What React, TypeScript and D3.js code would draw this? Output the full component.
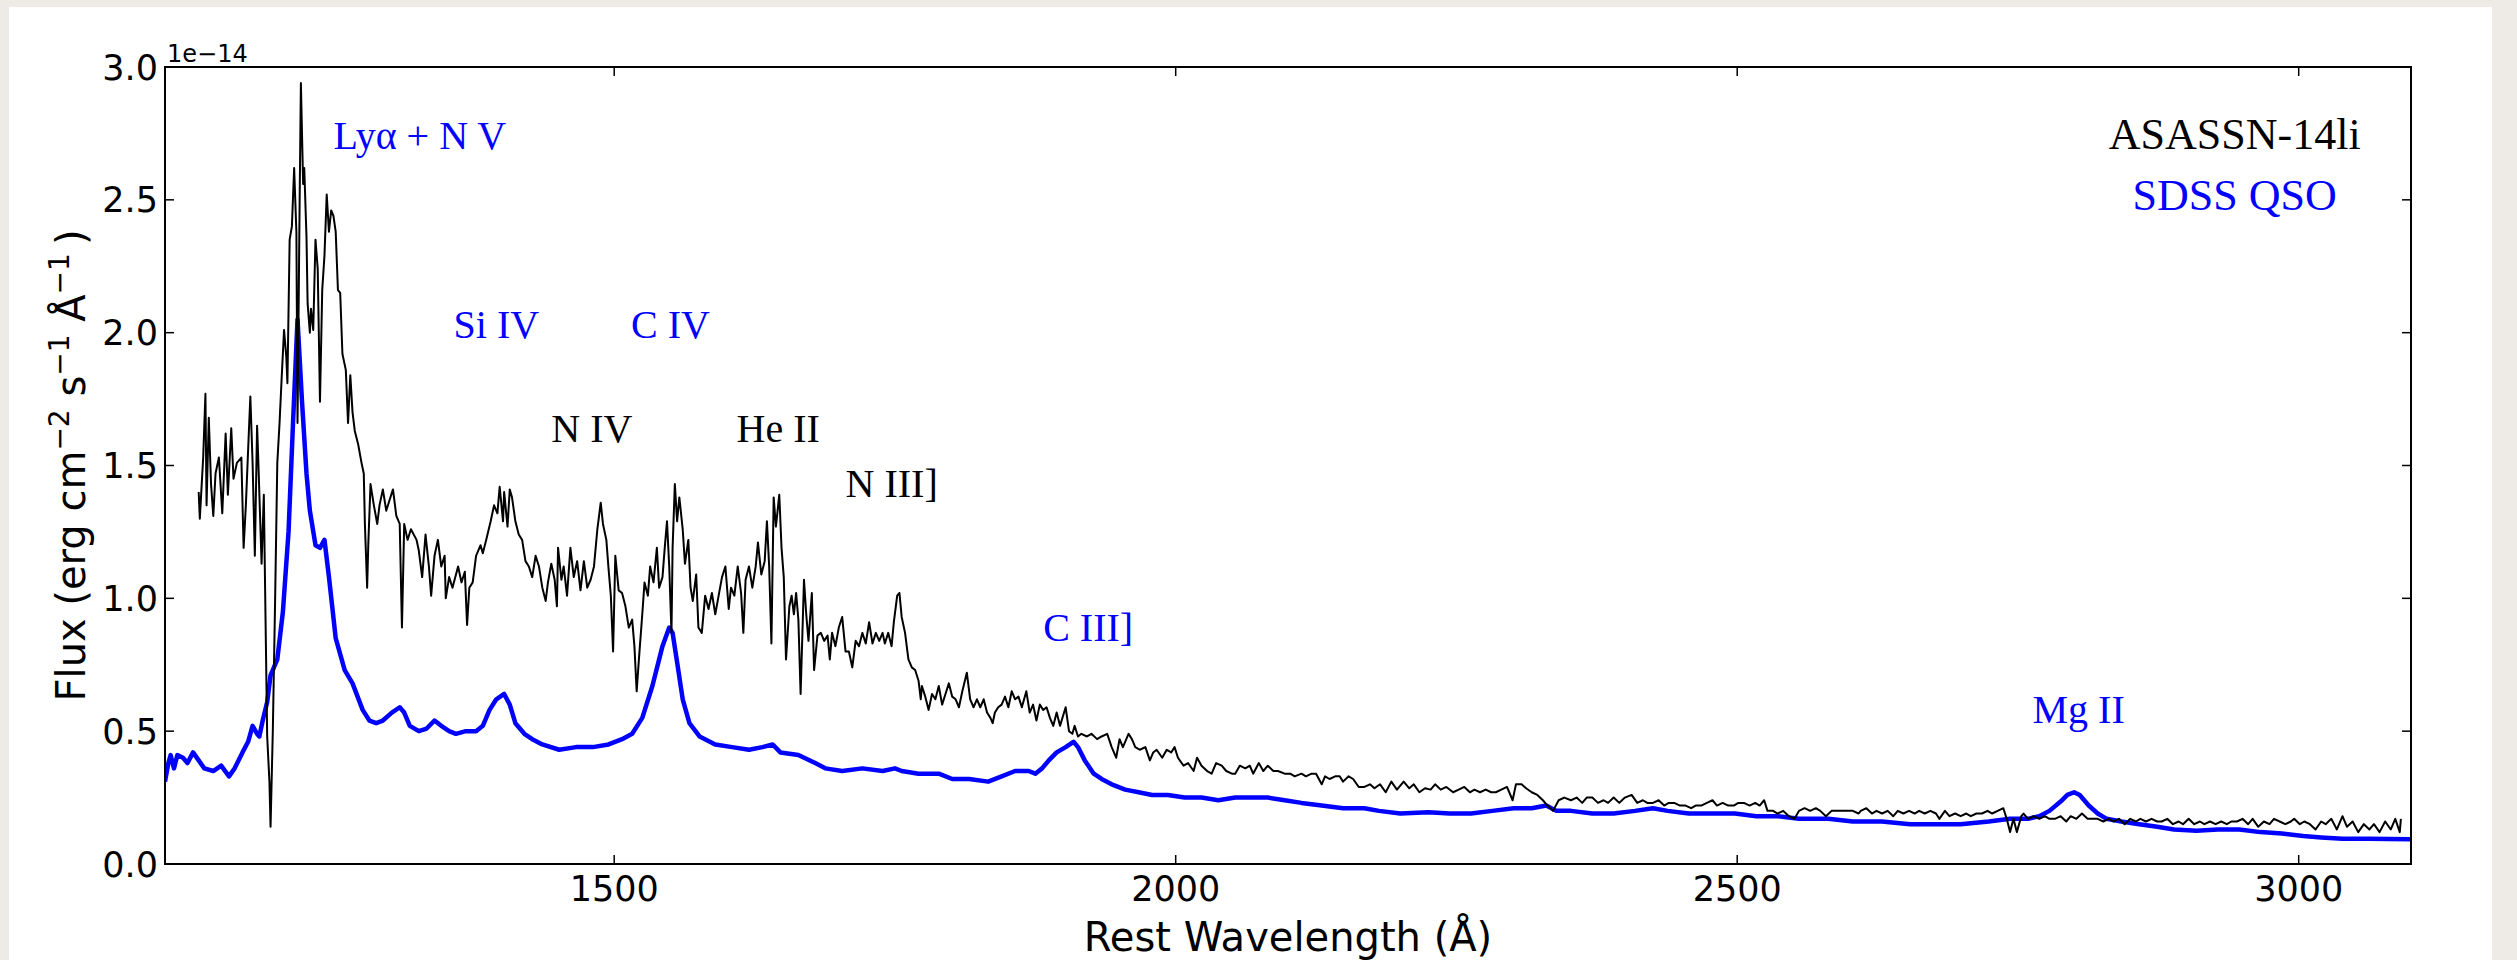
import React from 'react';
import * as d3 from 'd3';

// ---------- data (flux in units of 1e-14 erg cm^-2 s^-1 Å^-1) ----------
const xTicks = [1500, 2000, 2500, 3000];
const xTickLabels = ['1500', '2000', '2500', '3000'];
const yTicks = [0, 0.5, 1.0, 1.5, 2.0, 2.5, 3.0];
const yTickLabels = ['0.0', '0.5', '1.0', '1.5', '2.0', '2.5', '3.0'];
const xDomain = [1100, 3100];
const yDomain = [0, 3];
const offsetLabel = '1e\u221214';

// SDSS composite QSO (blue)
const qsoSpectrum: [number, number][] = [
  [1100, 0.31], [1103, 0.38], [1105, 0.41], [1108, 0.36], [1111, 0.41], [1116, 0.40], [1120, 0.38],
  [1125, 0.42], [1130, 0.39], [1135, 0.36], [1143, 0.35], [1150, 0.37], [1157, 0.33], [1162, 0.36],
  [1169, 0.42], [1174, 0.46], [1178, 0.52], [1182, 0.49], [1184, 0.48], [1187, 0.54], [1191, 0.61],
  [1194, 0.71], [1197, 0.74], [1200, 0.77], [1205, 0.95], [1210, 1.25], [1214, 1.66], [1218, 2.05],
  [1222, 1.74], [1226, 1.47], [1229, 1.33], [1234, 1.20], [1238, 1.19], [1242, 1.22], [1246, 1.08],
  [1252, 0.85], [1260, 0.73], [1267, 0.68], [1276, 0.58], [1282, 0.54], [1288, 0.53], [1294, 0.54],
  [1302, 0.57], [1309, 0.59], [1313, 0.57], [1318, 0.52], [1326, 0.50], [1333, 0.51], [1340, 0.54],
  [1346, 0.52], [1353, 0.50], [1359, 0.49], [1368, 0.50], [1377, 0.50], [1383, 0.52], [1389, 0.58],
  [1395, 0.62], [1402, 0.64], [1407, 0.60], [1412, 0.53], [1420, 0.49], [1427, 0.47], [1436, 0.45],
  [1451, 0.43], [1466, 0.44], [1481, 0.44], [1495, 0.45], [1507, 0.47], [1516, 0.49], [1525, 0.55],
  [1534, 0.67], [1543, 0.82], [1549, 0.89], [1552, 0.87], [1556, 0.76], [1561, 0.62], [1567, 0.53],
  [1576, 0.48], [1590, 0.45], [1605, 0.44], [1620, 0.43], [1632, 0.44], [1641, 0.45], [1648, 0.42],
  [1664, 0.41], [1679, 0.38], [1688, 0.36], [1703, 0.35], [1721, 0.36], [1739, 0.35], [1750, 0.36],
  [1756, 0.35], [1771, 0.34], [1789, 0.34], [1801, 0.32], [1816, 0.32], [1833, 0.31], [1845, 0.33],
  [1857, 0.35], [1869, 0.35], [1875, 0.34], [1881, 0.36], [1887, 0.39], [1894, 0.42], [1902, 0.44],
  [1909, 0.46], [1913, 0.44], [1919, 0.39], [1927, 0.34], [1934, 0.32], [1943, 0.30], [1955, 0.28],
  [1967, 0.27], [1979, 0.26], [1993, 0.26], [2008, 0.25], [2023, 0.25], [2038, 0.24], [2053, 0.25],
  [2071, 0.25], [2082, 0.25], [2097, 0.24], [2112, 0.23], [2130, 0.22], [2149, 0.21], [2168, 0.21],
  [2181, 0.20], [2200, 0.19], [2225, 0.195], [2244, 0.19], [2263, 0.19], [2282, 0.20], [2301, 0.21],
  [2317, 0.21], [2330, 0.22], [2339, 0.20], [2352, 0.20], [2371, 0.19], [2390, 0.19], [2409, 0.20],
  [2425, 0.21], [2438, 0.20], [2457, 0.19], [2479, 0.19], [2498, 0.19], [2517, 0.18], [2536, 0.18],
  [2555, 0.17], [2581, 0.17], [2603, 0.16], [2629, 0.16], [2654, 0.15], [2674, 0.15], [2699, 0.15],
  [2724, 0.16], [2743, 0.17], [2759, 0.17], [2769, 0.18], [2778, 0.20], [2788, 0.235], [2794, 0.26],
  [2800, 0.27], [2805, 0.26], [2813, 0.22], [2821, 0.19], [2829, 0.17], [2842, 0.16], [2858, 0.15],
  [2874, 0.14], [2889, 0.13], [2909, 0.125], [2928, 0.13], [2947, 0.13], [2966, 0.12], [2985, 0.115],
  [3004, 0.105], [3020, 0.10], [3039, 0.095], [3061, 0.095], [3080, 0.094], [3100, 0.093],
];

// ASASSN-14li (black)
const asassnSpectrum: [number, number][] = [
  [1130, 1.40], [1131, 1.30], [1134, 1.53], [1136, 1.77], [1137, 1.35], [1139, 1.68], [1141, 1.43],
  [1143, 1.31], [1145, 1.47], [1148, 1.53], [1151, 1.32], [1154, 1.62], [1156, 1.39], [1159, 1.64],
  [1161, 1.45], [1164, 1.51], [1168, 1.53], [1170, 1.19], [1172, 1.35], [1175, 1.66], [1176, 1.76],
  [1178, 1.51], [1180, 1.16], [1182, 1.65], [1183, 1.53], [1186, 1.13], [1188, 1.39], [1189, 1.08],
  [1191, 0.48], [1193, 0.31], [1194, 0.14], [1196, 0.50], [1198, 0.98], [1200, 1.51], [1202, 1.66],
  [1204, 1.84], [1206, 2.01], [1208, 1.91], [1209, 1.81], [1211, 2.35], [1213, 2.40], [1215, 2.62],
  [1217, 2.38], [1218, 1.66], [1220, 2.54], [1221, 2.94], [1223, 2.56], [1224, 2.62], [1226, 2.36],
  [1227, 2.11], [1229, 2.00], [1230, 2.09], [1232, 2.01], [1234, 2.35], [1236, 2.24], [1238, 1.74],
  [1240, 2.16], [1242, 2.29], [1244, 2.52], [1246, 2.38], [1248, 2.46], [1250, 2.44], [1252, 2.38],
  [1254, 2.16], [1256, 2.15], [1258, 1.92], [1261, 1.86], [1263, 1.66], [1265, 1.84], [1267, 1.70],
  [1269, 1.63], [1272, 1.58], [1275, 1.51], [1277, 1.47], [1278, 1.28], [1280, 1.04], [1281, 1.20],
  [1283, 1.43], [1286, 1.35], [1289, 1.28], [1291, 1.35], [1294, 1.41], [1297, 1.33], [1300, 1.37],
  [1303, 1.41], [1306, 1.31], [1309, 1.28], [1311, 0.89], [1313, 1.28], [1316, 1.22], [1319, 1.26],
  [1324, 1.22], [1326, 1.18], [1329, 1.08], [1332, 1.24], [1335, 1.12], [1337, 1.01], [1340, 1.16],
  [1343, 1.22], [1346, 1.12], [1349, 1.16], [1350, 1.00], [1353, 1.08], [1356, 1.04], [1361, 1.12],
  [1364, 1.06], [1367, 1.10], [1369, 0.90], [1371, 1.04], [1374, 1.06], [1377, 1.16], [1381, 1.20],
  [1383, 1.17], [1386, 1.22], [1390, 1.29], [1393, 1.35], [1396, 1.32], [1398, 1.42], [1401, 1.29],
  [1402, 1.40], [1405, 1.27], [1407, 1.41], [1409, 1.38], [1412, 1.29], [1415, 1.24], [1418, 1.22],
  [1421, 1.14], [1424, 1.12], [1427, 1.08], [1430, 1.16], [1433, 1.12], [1436, 1.04], [1439, 0.99],
  [1441, 1.06], [1444, 1.13], [1447, 1.07], [1449, 0.97], [1450, 1.19], [1453, 1.07], [1455, 1.12],
  [1458, 1.01], [1461, 1.19], [1464, 1.08], [1467, 1.14], [1470, 1.03], [1473, 1.14], [1476, 1.04],
  [1479, 1.07], [1482, 1.12], [1485, 1.26], [1488, 1.36], [1490, 1.28], [1493, 1.22], [1495, 1.11],
  [1497, 1.01], [1499, 0.80], [1501, 1.16], [1504, 1.03], [1507, 1.02], [1510, 0.97], [1513, 0.89],
  [1516, 0.92], [1518, 0.82], [1520, 0.65], [1522, 0.77], [1525, 0.94], [1527, 1.06], [1530, 1.01],
  [1532, 1.12], [1535, 1.06], [1538, 1.19], [1540, 1.04], [1543, 1.08], [1545, 1.19], [1547, 1.29],
  [1549, 1.12], [1551, 0.87], [1552, 1.19], [1554, 1.43], [1556, 1.29], [1558, 1.38], [1561, 1.26],
  [1563, 1.13], [1566, 1.22], [1568, 1.04], [1570, 0.99], [1573, 1.09], [1575, 0.89], [1578, 0.87],
  [1581, 1.01], [1584, 0.96], [1587, 1.02], [1590, 0.94], [1593, 1.01], [1596, 1.08], [1599, 1.12],
  [1602, 0.96], [1604, 1.04], [1607, 1.01], [1610, 1.12], [1613, 1.02], [1615, 0.87], [1617, 1.07],
  [1620, 1.12], [1623, 1.04], [1626, 1.12], [1628, 1.21], [1631, 1.09], [1634, 1.14], [1636, 1.29],
  [1638, 1.12], [1640, 0.83], [1642, 1.38], [1644, 1.27], [1647, 1.39], [1649, 1.19], [1651, 1.08],
  [1653, 0.77], [1656, 0.97], [1658, 1.01], [1660, 0.94], [1662, 1.02], [1664, 0.92], [1666, 0.64],
  [1669, 1.07], [1671, 0.94], [1673, 0.84], [1676, 1.02], [1678, 0.73], [1681, 0.86], [1684, 0.87],
  [1687, 0.84], [1690, 0.86], [1692, 0.77], [1694, 0.87], [1697, 0.82], [1700, 0.89], [1703, 0.93],
  [1706, 0.80], [1709, 0.80], [1712, 0.74], [1715, 0.84], [1718, 0.82], [1721, 0.87], [1724, 0.83],
  [1727, 0.91], [1730, 0.83], [1733, 0.87], [1736, 0.84], [1739, 0.87], [1741, 0.83], [1744, 0.87],
  [1747, 0.82], [1749, 0.91], [1752, 1.01], [1754, 1.02], [1756, 0.93], [1759, 0.87], [1762, 0.77],
  [1765, 0.74], [1768, 0.73], [1771, 0.69], [1773, 0.62], [1774, 0.67], [1777, 0.63], [1780, 0.58],
  [1783, 0.64], [1786, 0.62], [1789, 0.67], [1792, 0.60], [1795, 0.64], [1798, 0.68], [1801, 0.63],
  [1804, 0.62], [1807, 0.59], [1810, 0.65], [1814, 0.72], [1817, 0.62], [1820, 0.59], [1823, 0.62],
  [1826, 0.59], [1829, 0.62], [1832, 0.57], [1835, 0.55], [1837, 0.53], [1839, 0.57], [1842, 0.59],
  [1845, 0.60], [1848, 0.63], [1851, 0.59], [1854, 0.65], [1857, 0.62], [1860, 0.63], [1863, 0.59],
  [1867, 0.65], [1870, 0.57], [1873, 0.60], [1876, 0.54], [1879, 0.60], [1882, 0.58], [1885, 0.59],
  [1888, 0.55], [1891, 0.52], [1894, 0.57], [1897, 0.52], [1902, 0.59], [1905, 0.50], [1908, 0.49],
  [1910, 0.52], [1913, 0.48], [1916, 0.49], [1921, 0.48], [1925, 0.49], [1930, 0.47], [1934, 0.48],
  [1939, 0.49], [1943, 0.44], [1947, 0.40], [1950, 0.47], [1953, 0.44], [1958, 0.49], [1961, 0.47],
  [1964, 0.44], [1968, 0.43], [1973, 0.44], [1977, 0.39], [1980, 0.42], [1983, 0.43], [1988, 0.40],
  [1992, 0.43], [1996, 0.42], [1999, 0.44], [2002, 0.40], [2007, 0.37], [2011, 0.38], [2016, 0.35],
  [2019, 0.40], [2023, 0.37], [2028, 0.35], [2032, 0.34], [2036, 0.38], [2041, 0.37], [2045, 0.35],
  [2050, 0.34], [2053, 0.34], [2057, 0.37], [2062, 0.36], [2066, 0.37], [2069, 0.34], [2074, 0.38],
  [2078, 0.35], [2082, 0.37], [2087, 0.35], [2091, 0.35], [2097, 0.34], [2102, 0.34], [2106, 0.33],
  [2112, 0.34], [2116, 0.33], [2121, 0.34], [2125, 0.34], [2130, 0.30], [2133, 0.33], [2137, 0.32],
  [2142, 0.33], [2146, 0.33], [2149, 0.31], [2154, 0.33], [2158, 0.32], [2163, 0.29], [2168, 0.29],
  [2173, 0.30], [2177, 0.285], [2182, 0.30], [2187, 0.27], [2192, 0.31], [2197, 0.28], [2203, 0.31],
  [2208, 0.285], [2212, 0.30], [2217, 0.27], [2222, 0.285], [2227, 0.28], [2231, 0.30], [2236, 0.28],
  [2241, 0.29], [2247, 0.27], [2252, 0.28], [2257, 0.29], [2262, 0.27], [2266, 0.28], [2271, 0.27],
  [2276, 0.28], [2281, 0.27], [2285, 0.27], [2290, 0.28], [2295, 0.29], [2300, 0.24], [2303, 0.30],
  [2308, 0.30], [2312, 0.285], [2317, 0.27], [2322, 0.26], [2327, 0.24], [2331, 0.22], [2336, 0.20],
  [2341, 0.24], [2346, 0.25], [2352, 0.24], [2357, 0.25], [2362, 0.23], [2366, 0.25], [2371, 0.25],
  [2376, 0.23], [2381, 0.24], [2385, 0.23], [2390, 0.25], [2395, 0.23], [2400, 0.25], [2406, 0.26],
  [2411, 0.23], [2416, 0.24], [2420, 0.23], [2425, 0.23], [2430, 0.24], [2435, 0.22], [2439, 0.23],
  [2444, 0.23], [2449, 0.22], [2454, 0.22], [2459, 0.21], [2463, 0.22], [2468, 0.22], [2473, 0.23],
  [2478, 0.24], [2482, 0.22], [2487, 0.23], [2492, 0.22], [2497, 0.22], [2501, 0.23], [2506, 0.23],
  [2511, 0.22], [2516, 0.23], [2520, 0.22], [2524, 0.24], [2527, 0.20], [2532, 0.20], [2536, 0.19],
  [2541, 0.20], [2546, 0.18], [2551, 0.17], [2555, 0.20], [2560, 0.21], [2565, 0.20], [2570, 0.21],
  [2574, 0.20], [2579, 0.18], [2584, 0.20], [2589, 0.20], [2593, 0.20], [2598, 0.20], [2603, 0.20],
  [2608, 0.19], [2610, 0.20], [2615, 0.21], [2620, 0.19], [2624, 0.20], [2629, 0.19], [2634, 0.20],
  [2639, 0.18], [2643, 0.20], [2648, 0.19], [2653, 0.20], [2658, 0.19], [2662, 0.20], [2667, 0.19],
  [2672, 0.20], [2677, 0.19], [2680, 0.17], [2685, 0.20], [2689, 0.18], [2694, 0.19], [2699, 0.18],
  [2704, 0.19], [2708, 0.18], [2713, 0.19], [2718, 0.19], [2723, 0.20], [2727, 0.19], [2732, 0.20],
  [2737, 0.21], [2740, 0.17], [2743, 0.12], [2746, 0.17], [2749, 0.12], [2753, 0.18], [2755, 0.19],
  [2759, 0.17], [2764, 0.18], [2769, 0.17], [2774, 0.18], [2778, 0.17], [2783, 0.17], [2788, 0.18],
  [2793, 0.16], [2797, 0.18], [2802, 0.17], [2807, 0.19], [2812, 0.17], [2816, 0.17], [2821, 0.17],
  [2826, 0.16], [2831, 0.17], [2835, 0.16], [2840, 0.17], [2845, 0.15], [2850, 0.17], [2855, 0.16],
  [2859, 0.17], [2864, 0.16], [2869, 0.17], [2874, 0.16], [2878, 0.16], [2883, 0.17], [2888, 0.15],
  [2893, 0.16], [2897, 0.15], [2902, 0.17], [2907, 0.15], [2912, 0.16], [2916, 0.15], [2921, 0.16],
  [2926, 0.15], [2931, 0.16], [2936, 0.15], [2940, 0.16], [2945, 0.16], [2950, 0.17], [2955, 0.15],
  [2959, 0.17], [2964, 0.14], [2969, 0.16], [2974, 0.15], [2978, 0.17], [2983, 0.16], [2988, 0.15],
  [2993, 0.16], [2996, 0.17], [3001, 0.15], [3005, 0.16], [3010, 0.15], [3015, 0.13], [3020, 0.16],
  [3024, 0.15], [3029, 0.17], [3034, 0.13], [3039, 0.18], [3043, 0.14], [3048, 0.16], [3053, 0.12],
  [3058, 0.15], [3063, 0.13], [3067, 0.15], [3072, 0.12], [3077, 0.16], [3082, 0.13], [3086, 0.17],
  [3090, 0.12], [3091, 0.17],
];

// line identifications (data coordinates: wavelength, flux)
const lineLabels = [
  { text: 'Ly\u03b1 + N V', wave: 1250, flux: 2.69, color: '#0000ff' },
  { text: 'Si IV', wave: 1357, flux: 1.98, color: '#0000ff' },
  { text: 'C IV', wave: 1515, flux: 1.98, color: '#0000ff' },
  { text: 'N IV', wave: 1444, flux: 1.59, color: '#000000' },
  { text: 'He II', wave: 1609, flux: 1.59, color: '#000000' },
  { text: 'N III]', wave: 1706, flux: 1.38, color: '#000000' },
  { text: 'C III]', wave: 1882, flux: 0.84, color: '#0000ff' },
  { text: 'Mg II', wave: 2763, flux: 0.53, color: '#0000ff' },
];

const legendLabels = [
  { text: 'ASASSN-14li', wave: 2943, flux: 2.69, color: '#000000' },
  { text: 'SDSS QSO', wave: 2943, flux: 2.46, color: '#0000ff' },
];

// ---------- layout ----------
const W = 2517;
const H = 960;
const plot = { left: 165, right: 2411, top: 67, bottom: 864 };

export default function App() {
  const x = d3.scaleLinear().domain(xDomain).range([plot.left, plot.right]);
  const y = d3.scaleLinear().domain(yDomain).range([plot.bottom, plot.top]);
  const line = d3
    .line<[number, number]>()
    .x((d) => x(d[0]))
    .y((d) => y(d[1]));

  const tickLen = 9;
  const sans = 'DejaVu Sans';
  const serif = 'Liberation Serif';

  return (
    <svg
      width={W}
      height={H}
      style={{ position: 'absolute', left: 0, top: 0, display: 'block' }}
      xmlns="http://www.w3.org/2000/svg"
    >
      <rect x={0} y={0} width={W} height={H} fill="#eeebe6" />
      <rect x={9} y={7} width={2492 - 9} height={H - 7} fill="#ffffff" />

      <defs>
        <clipPath id="plotClip">
          <rect x={plot.left} y={plot.top} width={plot.right - plot.left} height={plot.bottom - plot.top} />
        </clipPath>
      </defs>

      <g clipPath="url(#plotClip)">
        <path d={line(qsoSpectrum) || ''} fill="none" stroke="#0000ff" strokeWidth={4.5} strokeLinejoin="round" />
        <path d={line(asassnSpectrum) || ''} fill="none" stroke="#000000" strokeWidth={2} strokeLinejoin="round" />
      </g>

      {/* ticks */}
      {xTicks.map((t) => (
        <g key={'xt' + t}>
          <line x1={x(t)} x2={x(t)} y1={plot.bottom} y2={plot.bottom - tickLen} stroke="#000" strokeWidth={1.5} />
          <line x1={x(t)} x2={x(t)} y1={plot.top} y2={plot.top + tickLen} stroke="#000" strokeWidth={1.5} />
        </g>
      ))}
      {yTicks.map((t) => (
        <g key={'yt' + t}>
          <line x1={plot.left} x2={plot.left + tickLen} y1={y(t)} y2={y(t)} stroke="#000" strokeWidth={1.5} />
          <line x1={plot.right} x2={plot.right - tickLen} y1={y(t)} y2={y(t)} stroke="#000" strokeWidth={1.5} />
        </g>
      ))}

      <rect
        x={plot.left}
        y={plot.top}
        width={plot.right - plot.left}
        height={plot.bottom - plot.top}
        fill="none"
        stroke="#000"
        strokeWidth={2}
      />

      {/* tick labels */}
      {xTicks.map((t, i) => (
        <text key={'xl' + t} x={x(t)} y={plot.bottom + 37} fontFamily={sans} fontSize={35} textAnchor="middle" fill="#000">
          {xTickLabels[i]}
        </text>
      ))}
      {yTicks.map((t, i) => (
        <text key={'yl' + t} x={plot.left - 7} y={y(t) + 12.5} fontFamily={sans} fontSize={35} textAnchor="end" fill="#000">
          {yTickLabels[i]}
        </text>
      ))}
      <text x={plot.left + 2} y={62} fontFamily={sans} fontSize={24} fill="#000">
        {offsetLabel}
      </text>

      {/* axis labels */}
      <text
        x={(plot.left + plot.right) / 2}
        y={951}
        fontFamily={sans}
        fontSize={40}
        textAnchor="middle"
        fill="#000"
      >
        Rest Wavelength (Å)
      </text>
      <text
        transform={`translate(85, ${(plot.top + plot.bottom) / 2}) rotate(-90)`}
        fontFamily={sans}
        fontSize={40}
        textAnchor="middle"
        fill="#000"
      >
        <tspan>Flux (erg cm</tspan>
        <tspan fontSize={28} dy={-16}>{'\u22122'}</tspan>
        <tspan dy={16}> s</tspan>
        <tspan fontSize={28} dy={-16}>{'\u22121'}</tspan>
        <tspan dy={16}> Å</tspan>
        <tspan fontSize={28} dy={-16}>{'\u22121'}</tspan>
        <tspan dy={16}>{'\u2009)'}</tspan>
      </text>

      {/* line identifications */}
      {lineLabels.map((l) => (
        <text key={l.text} x={x(l.wave)} y={y(l.flux)} fontFamily={serif} fontSize={40} fill={l.color}>
          {l.text}
        </text>
      ))}
      {legendLabels.map((l) => (
        <text
          key={l.text}
          x={x(l.wave)}
          y={y(l.flux)}
          fontFamily={serif}
          fontSize={44}
          textAnchor="middle"
          fill={l.color}
        >
          {l.text}
        </text>
      ))}
    </svg>
  );
}
